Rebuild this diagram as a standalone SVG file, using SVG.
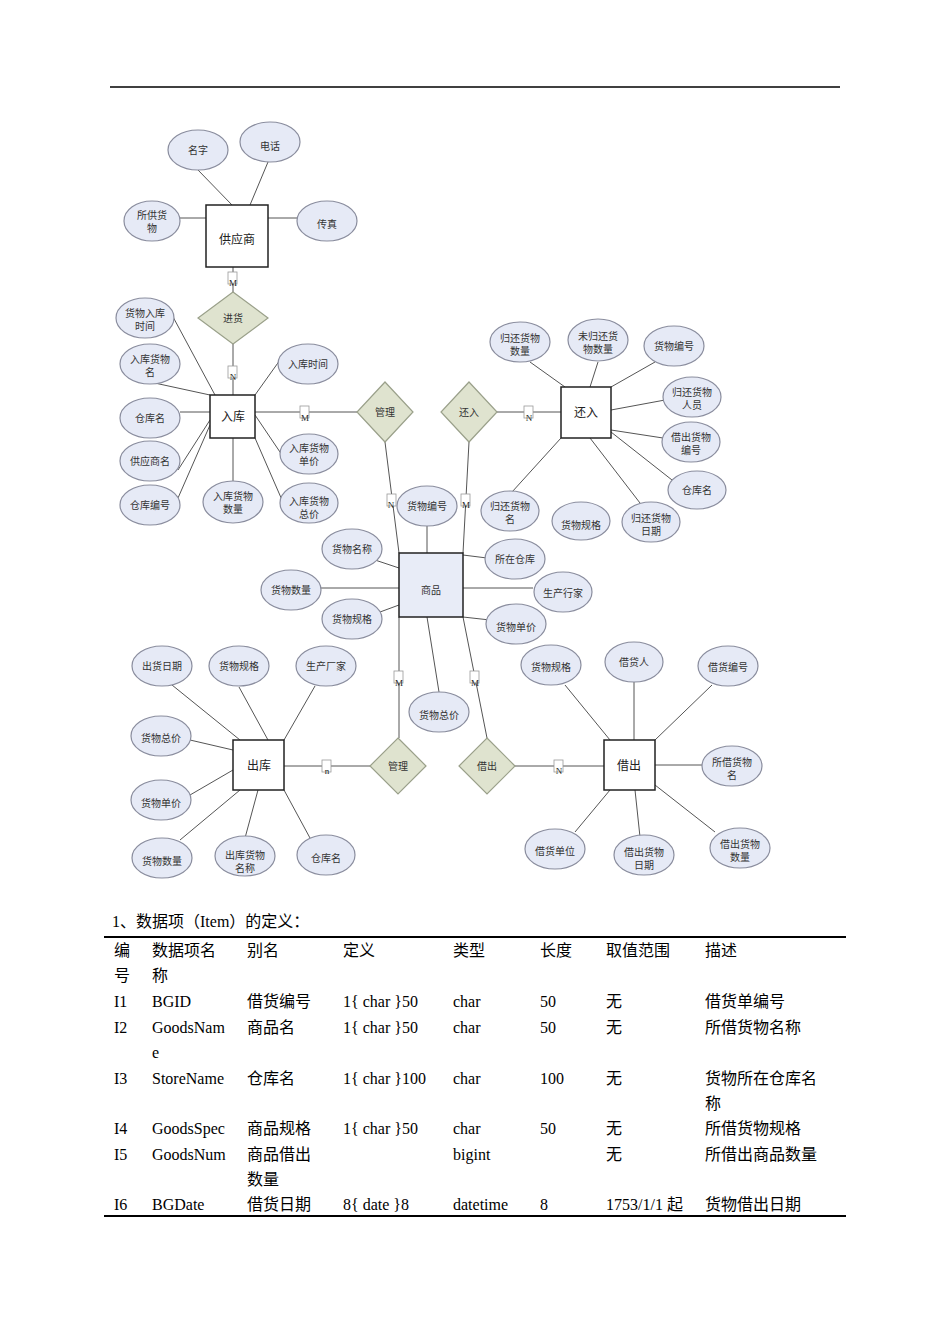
<svg xmlns="http://www.w3.org/2000/svg" width="950" height="1344" viewBox="0 0 950 1344">
<style>
.e{fill:#e6eaf6;stroke:#8a8d9e;stroke-width:1.2}
.r{fill:#fff;stroke:#222;stroke-width:1.5}
.g{fill:#e8ecf7;stroke:#222;stroke-width:1.5}
.d{fill:#dfe3cf;stroke:#9aa08a;stroke-width:1.2}
.t{font-family:"Liberation Serif","Noto Sans CJK SC",serif;font-size:10px;fill:#333;text-anchor:middle}
.bt{font-family:"Liberation Serif","Noto Sans CJK SC",serif;font-size:12px;fill:#222;text-anchor:middle}
.c line{stroke:#555;stroke-width:1}
.b{fill:#fff;stroke:#999;stroke-width:.8}
.m{font-family:"Liberation Serif",serif;font-size:9px;fill:#222;text-anchor:middle}
.tb{font-family:"Liberation Serif","Noto Sans CJK SC",serif;font-size:16px;fill:#000}
</style>
<rect width="950" height="1344" fill="#fff"/>
<line x1="110" y1="87" x2="840" y2="87" stroke="#000" stroke-width="1.5"/>
<g class="c">
<line x1="198" y1="170" x2="232" y2="205"/><line x1="268" y1="162" x2="250" y2="205"/>
<line x1="180" y1="218" x2="206" y2="218"/><line x1="297" y1="218" x2="268" y2="218"/>
<line x1="233" y1="267" x2="233" y2="292"/><line x1="233" y1="344" x2="233" y2="395"/>
<line x1="172" y1="315" x2="215" y2="395"/><line x1="150" y1="382" x2="210" y2="395"/>
<line x1="180" y1="412" x2="210" y2="412"/><line x1="178" y1="470" x2="210" y2="420"/>
<line x1="178" y1="498" x2="210" y2="425"/><line x1="233" y1="438" x2="233" y2="482"/>
<line x1="280" y1="360" x2="255" y2="395"/><line x1="282" y1="455" x2="255" y2="415"/>
<line x1="282" y1="500" x2="255" y2="438"/>
<line x1="255" y1="412" x2="357" y2="412"/><line x1="497" y1="412" x2="561" y2="412"/>
<line x1="385" y1="442" x2="399" y2="553"/><line x1="469" y1="442" x2="463" y2="553"/>
<line x1="530" y1="362" x2="565" y2="387"/><line x1="598" y1="362" x2="590" y2="387"/>
<line x1="655" y1="362" x2="611" y2="387"/><line x1="665" y1="400" x2="611" y2="410"/>
<line x1="663" y1="438" x2="611" y2="430"/><line x1="672" y1="480" x2="611" y2="432"/>
<line x1="640" y1="503" x2="590" y2="438"/><line x1="512" y1="492" x2="561" y2="438"/>
<line x1="427" y1="526" x2="427" y2="553"/><line x1="375" y1="560" x2="399" y2="568"/>
<line x1="487" y1="558" x2="463" y2="555"/><line x1="320" y1="588" x2="399" y2="588"/>
<line x1="533" y1="588" x2="463" y2="588"/><line x1="380" y1="612" x2="399" y2="605"/>
<line x1="490" y1="620" x2="463" y2="617"/><line x1="427" y1="617" x2="439" y2="692"/>
<line x1="399" y1="617" x2="399" y2="738"/><line x1="463" y1="617" x2="487" y2="738"/>
<line x1="284" y1="766" x2="370" y2="766"/><line x1="515" y1="766" x2="604" y2="766"/>
<line x1="172" y1="685" x2="240" y2="740"/><line x1="239" y1="687" x2="268" y2="740"/>
<line x1="315" y1="686" x2="284" y2="740"/><line x1="190" y1="740" x2="233" y2="750"/>
<line x1="190" y1="795" x2="233" y2="770"/><line x1="180" y1="840" x2="240" y2="790"/>
<line x1="245" y1="838" x2="258" y2="790"/><line x1="310" y1="838" x2="284" y2="790"/>
<line x1="565" y1="685" x2="610" y2="740"/><line x1="634" y1="682" x2="634" y2="740"/>
<line x1="712" y1="685" x2="655" y2="740"/><line x1="702" y1="765" x2="655" y2="765"/>
<line x1="715" y1="832" x2="655" y2="785"/><line x1="640" y1="837" x2="635" y2="790"/>
<line x1="575" y1="832" x2="610" y2="790"/>
</g>
<g id="labels">
<rect class="b" x="228" y="272" width="9" height="12"/><text class="m" x="233" y="286">M</text>
<rect class="b" x="228" y="366" width="9" height="12"/><text class="m" x="233" y="380">N</text>
<rect class="b" x="300" y="406" width="9" height="12"/><text class="m" x="305" y="421">M</text>
<rect class="b" x="524" y="406" width="9" height="12"/><text class="m" x="529" y="421">N</text>
<rect class="b" x="387" y="494" width="9" height="12"/><text class="m" x="391" y="508">N</text>
<rect class="b" x="461" y="494" width="9" height="12"/><text class="m" x="466" y="508">M</text>
<rect class="b" x="394" y="671" width="9" height="12"/><text class="m" x="399" y="686">M</text>
<rect class="b" x="470" y="671" width="9" height="12"/><text class="m" x="475" y="686">M</text>
<rect class="b" x="322" y="760" width="9" height="12"/><text class="m" x="327" y="774">n</text>
<rect class="b" x="554" y="760" width="9" height="12"/><text class="m" x="559" y="774">N</text>
</g>
<g id="supplier"><rect class="r" x="206" y="205" width="62" height="62"/><text class="bt" x="237" y="244">供应商</text></g>
<g id="ruku"><rect class="r" x="210" y="395" width="45" height="43"/><text class="bt" x="233" y="421">入库</text></g>
<g id="huanru"><rect class="r" x="561" y="387" width="50" height="51"/><text class="bt" x="586" y="417">还入</text></g>
<g id="goods"><rect class="g" x="399" y="553" width="64" height="64"/><text class="t" x="431" y="594">商品</text></g>
<g id="chuku"><rect class="r" x="233" y="740" width="51" height="50"/><text class="bt" x="259" y="770">出库</text></g>
<g id="jiechu"><rect class="r" x="604" y="740" width="51" height="50"/><text class="bt" x="629" y="770">借出</text></g>
<g id="d-jinhuo"><polygon class="d" points="233,292 268,318 233,344 198,318"/><text class="t" x="233" y="322">进货</text></g>
<g id="d-guanli1"><polygon class="d" points="385,382 413,412 385,442 357,412"/><text class="t" x="385" y="416">管理</text></g>
<g id="d-huanru"><polygon class="d" points="469,382 497,412 469,442 441,412"/><text class="t" x="469" y="416">还入</text></g>
<g id="d-guanli2"><polygon class="d" points="398,738 426,766 398,794 370,766"/><text class="t" x="398" y="770">管理</text></g>
<g id="d-jiechu"><polygon class="d" points="487,738 515,766 487,794 459,766"/><text class="t" x="487" y="770">借出</text></g>
<g id="attrs">
<g><ellipse class="e" cx="198" cy="150" rx="30" ry="20"/><text class="t" x="198" y="154">名字</text></g>
<g><ellipse class="e" cx="270" cy="142" rx="30" ry="20"/><text class="t" x="270" y="150">电话</text></g>
<g><ellipse class="e" cx="152" cy="221" rx="28" ry="20"/><text class="t" x="152" y="219">所供货</text><text class="t" x="152" y="232">物</text></g>
<g><ellipse class="e" cx="327" cy="221" rx="30" ry="20"/><text class="t" x="327" y="228">传真</text></g>
<g><ellipse class="e" cx="145" cy="318" rx="29" ry="20"/><text class="t" x="145" y="317">货物入库</text><text class="t" x="145" y="330">时间</text></g>
<g><ellipse class="e" cx="150" cy="364" rx="30" ry="20"/><text class="t" x="150" y="363">入库货物</text><text class="t" x="150" y="376">名</text></g>
<g><ellipse class="e" cx="150" cy="418" rx="30" ry="20"/><text class="t" x="150" y="422">仓库名</text></g>
<g><ellipse class="e" cx="150" cy="461" rx="30" ry="20"/><text class="t" x="150" y="465">供应商名</text></g>
<g><ellipse class="e" cx="150" cy="505" rx="30" ry="20"/><text class="t" x="150" y="509">仓库编号</text></g>
<g><ellipse class="e" cx="233" cy="502" rx="30" ry="21"/><text class="t" x="233" y="500">入库货物</text><text class="t" x="233" y="513">数量</text></g>
<g><ellipse class="e" cx="308" cy="364" rx="30" ry="20"/><text class="t" x="308" y="368">入库时间</text></g>
<g><ellipse class="e" cx="309" cy="454" rx="29" ry="20"/><text class="t" x="309" y="452">入库货物</text><text class="t" x="309" y="465">单价</text></g>
<g><ellipse class="e" cx="309" cy="503" rx="29" ry="20"/><text class="t" x="309" y="505">入库货物</text><text class="t" x="309" y="518">总价</text></g>
<g><ellipse class="e" cx="520" cy="342" rx="30" ry="20"/><text class="t" x="520" y="342">归还货物</text><text class="t" x="520" y="355">数量</text></g>
<g><ellipse class="e" cx="598" cy="340" rx="30" ry="21"/><text class="t" x="598" y="340">未归还货</text><text class="t" x="598" y="353">物数量</text></g>
<g><ellipse class="e" cx="674" cy="346" rx="30" ry="20"/><text class="t" x="674" y="350">货物编号</text></g>
<g><ellipse class="e" cx="692" cy="397" rx="29" ry="20"/><text class="t" x="692" y="396">归还货物</text><text class="t" x="692" y="409">人员</text></g>
<g><ellipse class="e" cx="691" cy="442" rx="29" ry="20"/><text class="t" x="691" y="441">借出货物</text><text class="t" x="691" y="454">编号</text></g>
<g><ellipse class="e" cx="697" cy="490" rx="29" ry="19"/><text class="t" x="697" y="494">仓库名</text></g>
<g><ellipse class="e" cx="651" cy="522" rx="29" ry="20"/><text class="t" x="651" y="522">归还货物</text><text class="t" x="651" y="535">日期</text></g>
<g><ellipse class="e" cx="581" cy="521" rx="29" ry="19"/><text class="t" x="581" y="529">货物规格</text></g>
<g><ellipse class="e" cx="510" cy="511" rx="29" ry="20"/><text class="t" x="510" y="510">归还货物</text><text class="t" x="510" y="523">名</text></g>
<g><ellipse class="e" cx="427" cy="506" rx="30" ry="20"/><text class="t" x="427" y="510">货物编号</text></g>
<g><ellipse class="e" cx="352" cy="549" rx="30" ry="20"/><text class="t" x="352" y="553">货物名称</text></g>
<g><ellipse class="e" cx="515" cy="559" rx="30" ry="20"/><text class="t" x="515" y="563">所在仓库</text></g>
<g><ellipse class="e" cx="291" cy="590" rx="30" ry="20"/><text class="t" x="291" y="594">货物数量</text></g>
<g><ellipse class="e" cx="563" cy="592" rx="29" ry="20"/><text class="t" x="563" y="597">生产行家</text></g>
<g><ellipse class="e" cx="352" cy="619" rx="30" ry="20"/><text class="t" x="352" y="623">货物规格</text></g>
<g><ellipse class="e" cx="516" cy="624" rx="30" ry="20"/><text class="t" x="516" y="631">货物单价</text></g>
<g><ellipse class="e" cx="439" cy="712" rx="30" ry="20"/><text class="t" x="439" y="719">货物总价</text></g>
<g><ellipse class="e" cx="162" cy="666" rx="30" ry="20"/><text class="t" x="162" y="670">出货日期</text></g>
<g><ellipse class="e" cx="239" cy="666" rx="30" ry="20"/><text class="t" x="239" y="670">货物规格</text></g>
<g><ellipse class="e" cx="326" cy="666" rx="30" ry="20"/><text class="t" x="326" y="670">生产厂家</text></g>
<g><ellipse class="e" cx="161" cy="736" rx="30" ry="20"/><text class="t" x="161" y="742">货物总价</text></g>
<g><ellipse class="e" cx="161" cy="800" rx="30" ry="20"/><text class="t" x="161" y="807">货物单价</text></g>
<g><ellipse class="e" cx="162" cy="858" rx="30" ry="20"/><text class="t" x="162" y="865">货物数量</text></g>
<g><ellipse class="e" cx="245" cy="856" rx="30" ry="20"/><text class="t" x="245" y="859">出库货物</text><text class="t" x="245" y="872">名称</text></g>
<g><ellipse class="e" cx="326" cy="855" rx="29" ry="20"/><text class="t" x="326" y="862">仓库名</text></g>
<g><ellipse class="e" cx="551" cy="665" rx="30" ry="20"/><text class="t" x="551" y="671">货物规格</text></g>
<g><ellipse class="e" cx="634" cy="662" rx="29" ry="20"/><text class="t" x="634" y="666">借贷人</text></g>
<g><ellipse class="e" cx="728" cy="666" rx="30" ry="20"/><text class="t" x="728" y="671">借货编号</text></g>
<g><ellipse class="e" cx="732" cy="766" rx="30" ry="20"/><text class="t" x="732" y="766">所借货物</text><text class="t" x="732" y="779">名</text></g>
<g><ellipse class="e" cx="740" cy="848" rx="30" ry="20"/><text class="t" x="740" y="848">借出货物</text><text class="t" x="740" y="861">数量</text></g>
<g><ellipse class="e" cx="644" cy="855" rx="30" ry="20"/><text class="t" x="644" y="856">借出货物</text><text class="t" x="644" y="869">日期</text></g>
<g><ellipse class="e" cx="555" cy="849" rx="30" ry="20"/><text class="t" x="555" y="855">借货单位</text></g>
</g>
<g id="table">
<text class="tb" x="112" y="927" font-size="17">1、数据项（Item）的定义：</text>
<line x1="104" y1="937" x2="846" y2="937" stroke="#000" stroke-width="2"/>
<line x1="104" y1="1216" x2="846" y2="1216" stroke="#000" stroke-width="2"/>
<text class="tb" x="114" y="956">编</text><text class="tb" x="114" y="981">号</text>
<text class="tb" x="152" y="956">数据项名</text><text class="tb" x="152" y="981">称</text>
<text class="tb" x="247" y="956">别名</text><text class="tb" x="343" y="956">定义</text>
<text class="tb" x="453" y="956">类型</text><text class="tb" x="540" y="956">长度</text>
<text class="tb" x="606" y="956">取值范围</text><text class="tb" x="705" y="956">描述</text>
<text class="tb" x="114" y="1007">I1</text><text class="tb" x="152" y="1007">BGID</text><text class="tb" x="247" y="1007">借货编号</text><text class="tb" x="343" y="1007">1{ char }50</text><text class="tb" x="453" y="1007">char</text><text class="tb" x="540" y="1007">50</text><text class="tb" x="606" y="1007">无</text><text class="tb" x="705" y="1007">借货单编号</text>
<text class="tb" x="114" y="1033">I2</text><text class="tb" x="152" y="1033">GoodsNam</text><text class="tb" x="152" y="1058">e</text><text class="tb" x="247" y="1033">商品名</text><text class="tb" x="343" y="1033">1{ char }50</text><text class="tb" x="453" y="1033">char</text><text class="tb" x="540" y="1033">50</text><text class="tb" x="606" y="1033">无</text><text class="tb" x="705" y="1033">所借货物名称</text>
<text class="tb" x="114" y="1084">I3</text><text class="tb" x="152" y="1084">StoreName</text><text class="tb" x="247" y="1084">仓库名</text><text class="tb" x="343" y="1084">1{ char }100</text><text class="tb" x="453" y="1084">char</text><text class="tb" x="540" y="1084">100</text><text class="tb" x="606" y="1084">无</text><text class="tb" x="705" y="1084">货物所在仓库名</text><text class="tb" x="705" y="1109">称</text>
<text class="tb" x="114" y="1134">I4</text><text class="tb" x="152" y="1134">GoodsSpec</text><text class="tb" x="247" y="1134">商品规格</text><text class="tb" x="343" y="1134">1{ char }50</text><text class="tb" x="453" y="1134">char</text><text class="tb" x="540" y="1134">50</text><text class="tb" x="606" y="1134">无</text><text class="tb" x="705" y="1134">所借货物规格</text>
<text class="tb" x="114" y="1160">I5</text><text class="tb" x="152" y="1160">GoodsNum</text><text class="tb" x="247" y="1160">商品借出</text><text class="tb" x="247" y="1185">数量</text><text class="tb" x="453" y="1160">bigint</text><text class="tb" x="606" y="1160">无</text><text class="tb" x="705" y="1160">所借出商品数量</text>
<text class="tb" x="114" y="1210">I6</text><text class="tb" x="152" y="1210">BGDate</text><text class="tb" x="247" y="1210">借货日期</text><text class="tb" x="343" y="1210">8{ date }8</text><text class="tb" x="453" y="1210">datetime</text><text class="tb" x="540" y="1210">8</text><text class="tb" x="606" y="1210">1753/1/1 起</text><text class="tb" x="705" y="1210">货物借出日期</text>
</g>
</svg>
